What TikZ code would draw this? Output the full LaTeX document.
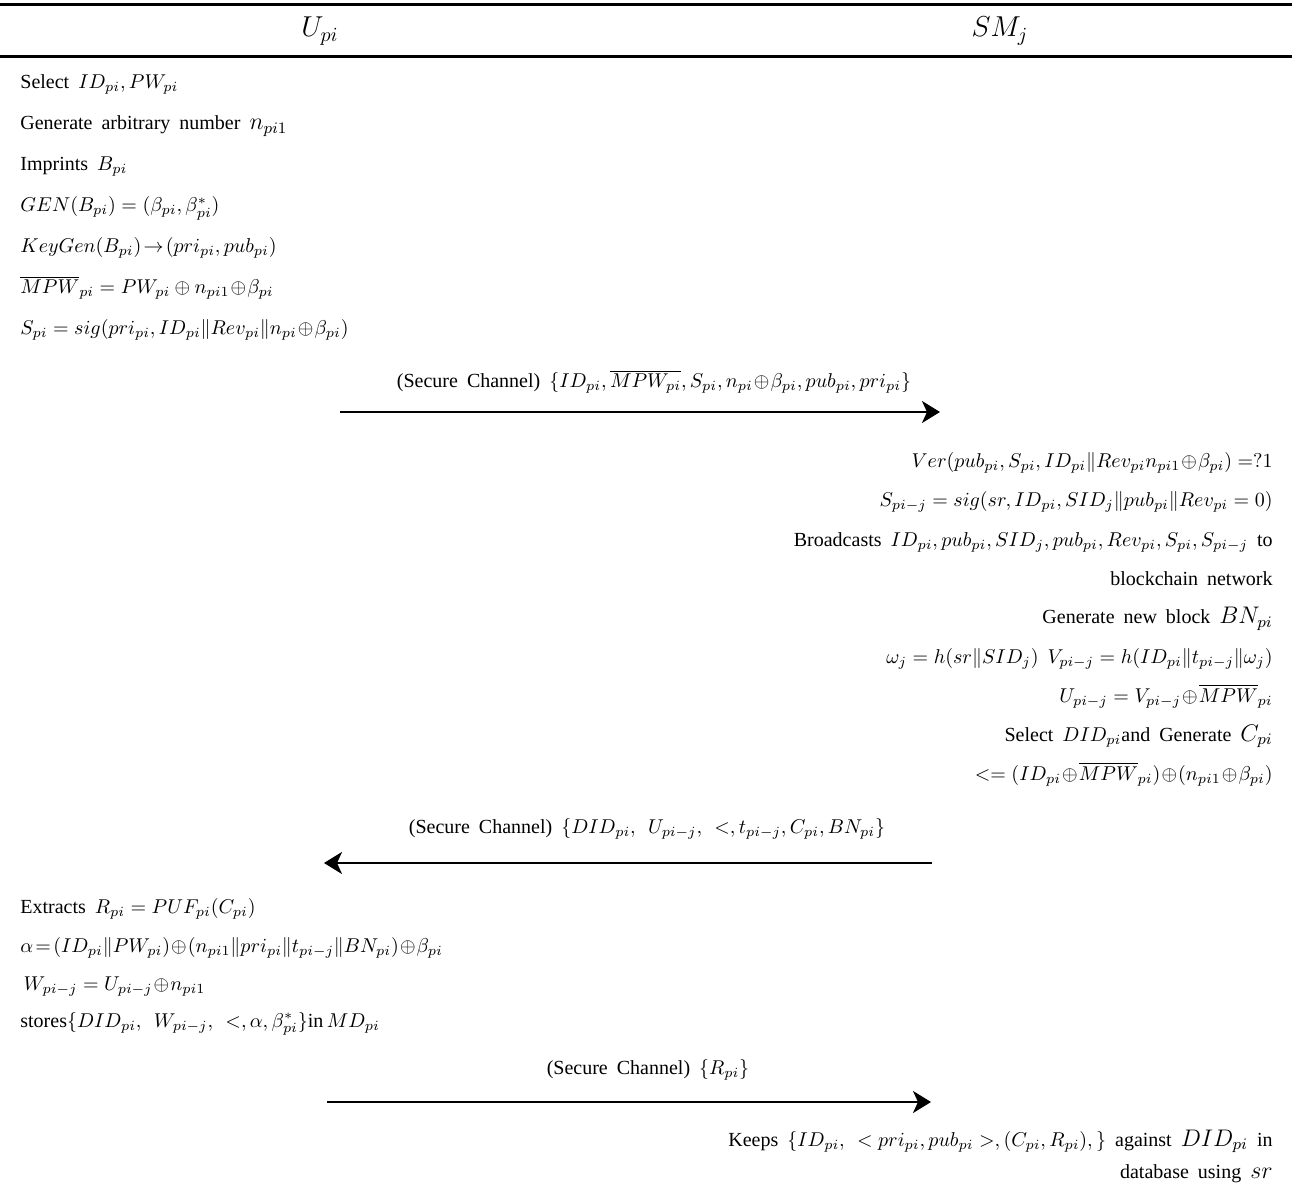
\documentclass[tikz,border=0pt]{standalone}
\usepackage{amsmath}
\usepackage[no-math]{fontspec}
\setmainfont{Liberation Serif}[WordSpace=1.8]
\usetikzlibrary{arrows.meta}

\begin{document}
\begin{tikzpicture}[x=0.5pt,y=-0.5pt,
	lefttext/.style={anchor=base west,inner sep=0pt},
	righttext/.style={anchor=base east,inner sep=0pt},
	chan/.style={anchor=base,inner sep=0pt},
	flow/.style={line width=1.1pt,-{Stealth[length=9pt,width=11pt,inset=2.5pt]}}]
			\useasboundingbox (0,0) rectangle (1292,1198);

			% header
			\draw[line width=1.5pt] (0,5) -- (1292,5);
			\draw[line width=1.5pt] (0,57) -- (1292,57);
			\node (user) at (320,31) {\Large $U_{pi}$};
			\node (meter) at (1000,31) {\Large $SM_j$};

			% registration at the user side
			\node[lefttext] (u1) at (20,89) {Select $ID_{pi}, PW_{pi}$};
			\node[lefttext] (u2) at (20,130) {Generate arbitrary number {\large $n_{pi1}$}};
			\node[lefttext] (u3) at (20,171) {Imprints $B_{pi}$};
			\node[lefttext] (u4) at (20,212) {$GEN(B_{pi}) = (\beta_{pi}, \beta^{*}_{pi})$};
			\node[lefttext] (u5) at (20,253) {$KeyGen(B_{pi})\!\rightarrow\!(pri_{pi}, pub_{pi})$};
			\node[lefttext] (u6) at (20,294) {$\overline{MPW}_{pi} = PW_{pi}\oplus n_{pi1}\!\oplus\!\beta_{pi}$};
			\node[lefttext] (u7) at (20,335) {$S_{pi} = sig(pri_{pi}, ID_{pi}\|Rev_{pi}\|n_{pi}\!\oplus\!\beta_{pi})$};

			\node[chan] (m1) at (654,388) {(Secure Channel) $\{ID_{pi}, \overline{MPW_{pi}}, S_{pi}, n_{pi}\!\oplus\!\beta_{pi}, pub_{pi}, pri_{pi}\}$};
			\coordinate (m1a) at (340,412);
			\coordinate (m1b) at (940,412);
			\draw[flow] (m1a) -- (m1b);

			% smart meter side
			\node[righttext] (s1) at (1273,468) {$Ver(pub_{pi}, S_{pi}, ID_{pi}\|Rev_{pi}n_{pi1}\!\oplus\!\beta_{pi}) = ?1$};
			\node[righttext] (s2) at (1273,507) {$S_{pi-j} = sig(sr, ID_{pi}, SID_j\|pub_{pi}\|Rev_{pi} = 0)$};
			\node[righttext] (s3) at (1273,546) {Broadcasts $ID_{pi}, pub_{pi},SID_j, pub_{pi}, Rev_{pi}, S_{pi}, S_{pi-j}$ to};
			\node[righttext] (s4) at (1273,585) {blockchain network};
			\node[righttext] (s5) at (1273,624) {Generate new block {\large $BN_{pi}$}};
			\node[righttext] (s6) at (1273,663) {$\omega_j = h(sr\|SID_j)\ V_{pi-j} = h(ID_{pi}\|t_{pi-j}\|\omega_j)$};
			\node[righttext] (s7) at (1273,702) {$U_{pi-j} = V_{pi-j}\!\oplus\!\overline{MPW}_{pi}$};
			\node[righttext] (s8) at (1273,741) {Select $DID_{pi}$and Generate {\large $C_{pi}$}};
			\node[righttext] (s9) at (1273,780) {$<=(ID_{pi}\!\oplus\!\overline{MPW}_{pi})\!\oplus\!(n_{pi1}\!\oplus\!\beta_{pi})$};

			\node[chan] (m2) at (647,833) {(Secure Channel) $\{DID_{pi},\ U_{pi-j},\ {<}, t_{pi-j}, C_{pi}, BN_{pi}\}$};
			\coordinate (m2a) at (932,863);
			\coordinate (m2b) at (324,863);
			\draw[flow] (m2a) -- (m2b);

			% user side again
			\node[lefttext] (u8) at (20,913) {Extracts $R_{pi} = PUF_{pi}(C_{pi})$};
			\node[lefttext] (u9) at (20,952) {$\alpha\!=\!(ID_{pi}\|PW_{pi})\!\oplus\!(n_{pi1}\|pri_{pi}\|t_{pi-j}\|BN_{pi})\!\oplus\!\beta_{pi}$};
			\node[lefttext] (u10) at (20,990) {$\,W_{pi-j} = U_{pi-j}\!\oplus\!n_{pi1}$};
			\node[lefttext] (u11) at (20,1027) {stores$\{DID_{pi},\ W_{pi-j},\ {<}, \alpha, \beta^{*}_{pi}\}$in\,$MD_{pi}$};

			\node[chan] (m3) at (648,1074) {(Secure Channel) $\{R_{pi}\}$};
			\coordinate (m3a) at (327,1102);
			\coordinate (m3b) at (931,1102);
			\draw[flow] (m3a) -- (m3b);

			% storage at the smart meter
			\node[righttext] (s10) at (1273,1146) {Keeps $\{ID_{pi},\ < pri_{pi}, pub_{pi} >, (C_{pi}, R_{pi}),\}$ against {\large $DID_{pi}$} in};
			\node[righttext] (s11) at (1273,1178) {database using {\large $sr$}};
		\end{tikzpicture}
\end{document}
